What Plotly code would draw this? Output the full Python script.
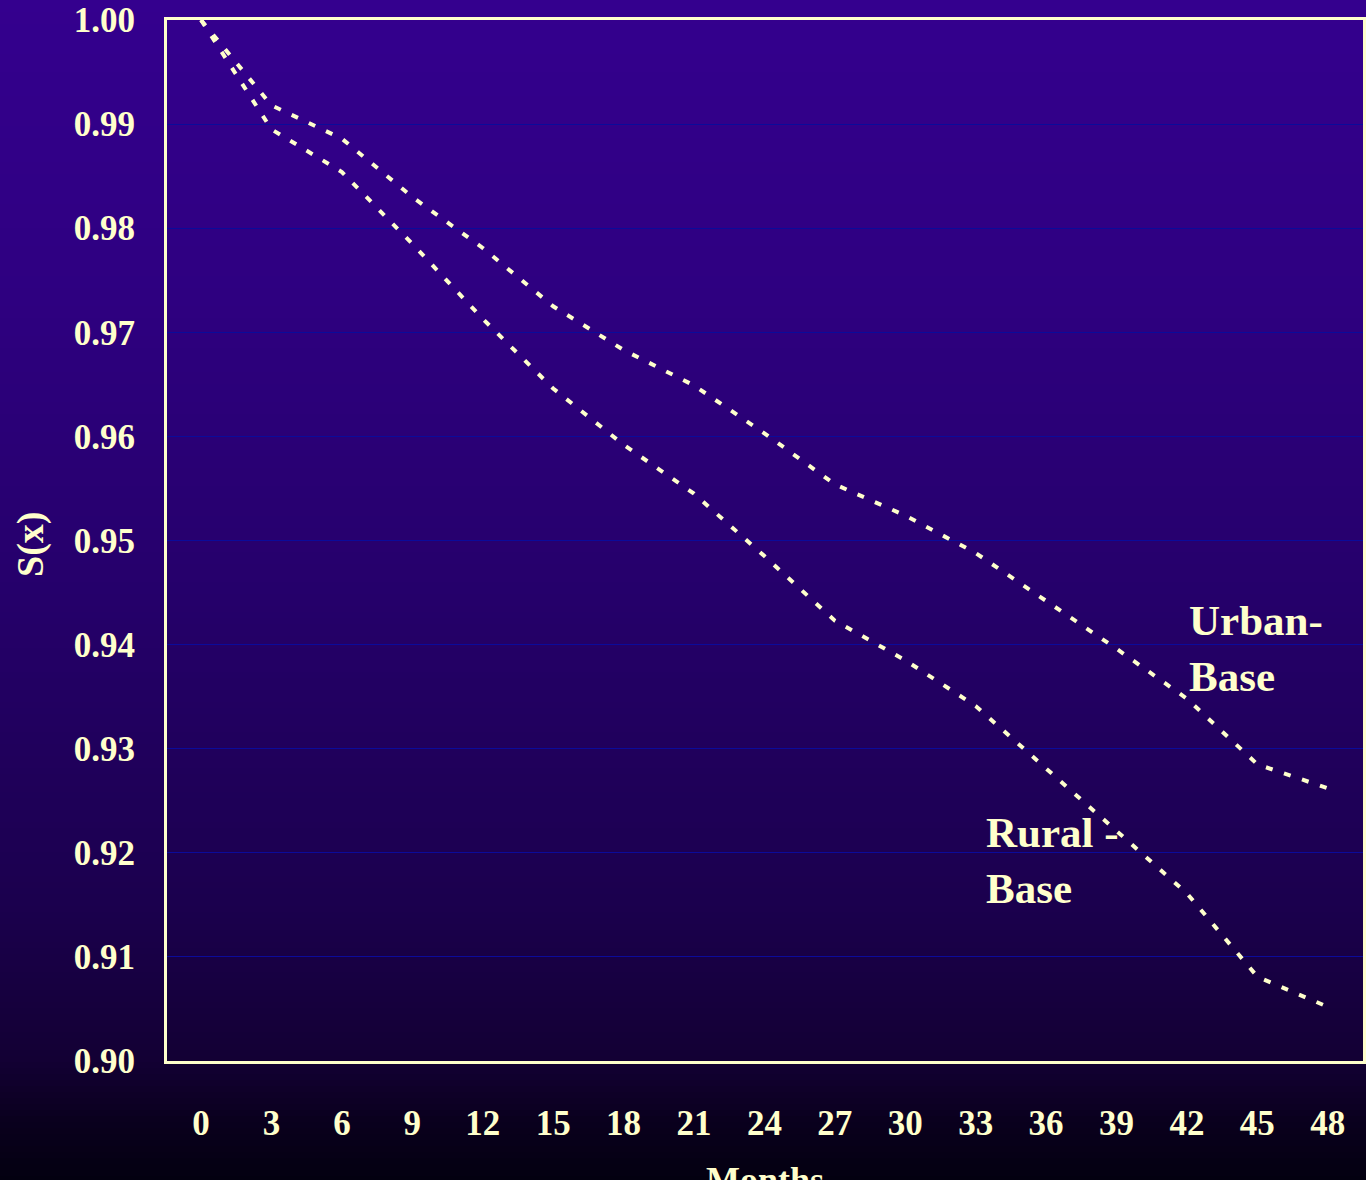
import plotly.graph_objects as go

months = [0, 3, 6, 9, 12, 15, 18, 21, 24, 27, 30, 33, 36, 39, 42, 45, 48]
urban_base = [1.0000, 0.9918, 0.9886, 0.9830, 0.9781, 0.9725, 0.9683, 0.9649, 0.9603,
              0.9554, 0.9524, 0.9488, 0.9442, 0.9396, 0.9348, 0.9285, 0.9262]
rural_base = [1.0000, 0.9895, 0.9854, 0.9785, 0.9713, 0.9646, 0.9592, 0.9545, 0.9485,
              0.9423, 0.9385, 0.9341, 0.9281, 0.9221, 0.9161, 0.9081, 0.9052]
y_ticks = [0.90, 0.91, 0.92, 0.93, 0.94, 0.95, 0.96, 0.97, 0.98, 0.99, 1.00]

W, H = 1366, 1180
ML, MR, MT, MB = 167, 3, 20, 119
PW, PH = W - ML - MR, H - MT - MB

CREAM = "#FFFFCC"
FONT = "Liberation Serif"

# background gradient stops (pixel y from top, rgb)
stops = [(0, (52, 0, 142)), (300, (46, 0, 128)), (600, (37, 0, 106)),
         (900, (27, 0, 78)), (1060, (19, 0, 52)), (1120, (10, 0, 30)), (1180, (3, 0, 16))]


def color_at(p):
    for (p0, c0), (p1, c1) in zip(stops[:-1], stops[1:]):
        if p0 <= p <= p1:
            t = (p - p0) / (p1 - p0)
            return "rgb(%d,%d,%d)" % tuple(round(a + (b - a) * t) for a, b in zip(c0, c1))
    return "rgb(%d,%d,%d)" % stops[-1][1]


shapes = []
band = 6
for top in range(0, H, band):
    bot = min(H, top + band + 1)
    shapes.append(dict(
        type="rect", xref="paper", yref="paper", layer="below",
        x0=-ML / PW - 0.01, x1=(W - ML) / PW + 0.01,
        y0=(H - MB - bot) / PH, y1=(H - MB - top) / PH,
        fillcolor=color_at(top + band / 2), line=dict(width=0)))

fig = go.Figure()
fig.add_trace(go.Scatter(x=months, y=urban_base, mode="lines", name="Urban-Base",
                         line=dict(color=CREAM, width=4, dash="7px,12px")))
fig.add_trace(go.Scatter(x=months, y=rural_base, mode="lines", name="Rural -Base",
                         line=dict(color=CREAM, width=4, dash="7px,12px")))

fig.add_annotation(x=42.0, y=0.9396, xref="x", yref="y", text="Urban-<br>Base",
                   showarrow=False, xanchor="left", yanchor="middle", align="left",
                   font=dict(family=FONT, size=43, color=CREAM, weight="bold"))
fig.add_annotation(x=33.35, y=0.9193, xref="x", yref="y", text="Rural -<br>Base",
                   showarrow=False, xanchor="left", yanchor="middle", align="left",
                   font=dict(family=FONT, size=43, color=CREAM, weight="bold"))

# axis titles placed as paper annotations
fig.add_annotation(x=(765 - ML) / PW, y=(H - MB - 1158) / PH, xref="paper", yref="paper",
                   text="Months", showarrow=False, xanchor="center", yanchor="top",
                   font=dict(family=FONT, size=36, color=CREAM, weight="bold"))
fig.add_annotation(x=(30 - ML) / PW, y=(H - MB - 545) / PH, xref="paper", yref="paper",
                   text="S(x)", showarrow=False, xanchor="center", yanchor="middle",
                   textangle=-90,
                   font=dict(family=FONT, size=38, color=CREAM, weight="bold"))

fig.update_layout(
    width=W, height=H,
    margin=dict(l=ML, r=MR, t=MT, b=MB, pad=0, autoexpand=False),
    paper_bgcolor="rgba(0,0,0,0)", plot_bgcolor="rgba(0,0,0,0)",
    showlegend=False, shapes=shapes,
    font=dict(family=FONT, color=CREAM),
)
fig.update_xaxes(
    automargin=False,
    range=[-1.45, 49.5], tickvals=months, ticktext=[str(m) for m in months],
    showgrid=False, zeroline=False,
    showline=True, linecolor=CREAM, linewidth=3, mirror=True,
    ticks="outside", ticklen=29, tickcolor="rgba(0,0,0,0)",
    tickfont=dict(family=FONT, size=35, color=CREAM, weight="bold"),
)
fig.update_yaxes(
    automargin=False,
    range=[0.90, 1.00], tickvals=y_ticks, tickformat=".2f",
    showgrid=True, gridcolor="#0B0B9A", gridwidth=1, zeroline=False,
    showline=True, linecolor=CREAM, linewidth=3, mirror=True,
    ticks="outside", ticklen=22, tickcolor="rgba(0,0,0,0)",
    tickfont=dict(family=FONT, size=35, color=CREAM, weight="bold"),
)

fig.write_html("out.html", config={"displayModeBar": False},
               post_script="document.body.style.margin='0';document.body.style.background='#030010';")
